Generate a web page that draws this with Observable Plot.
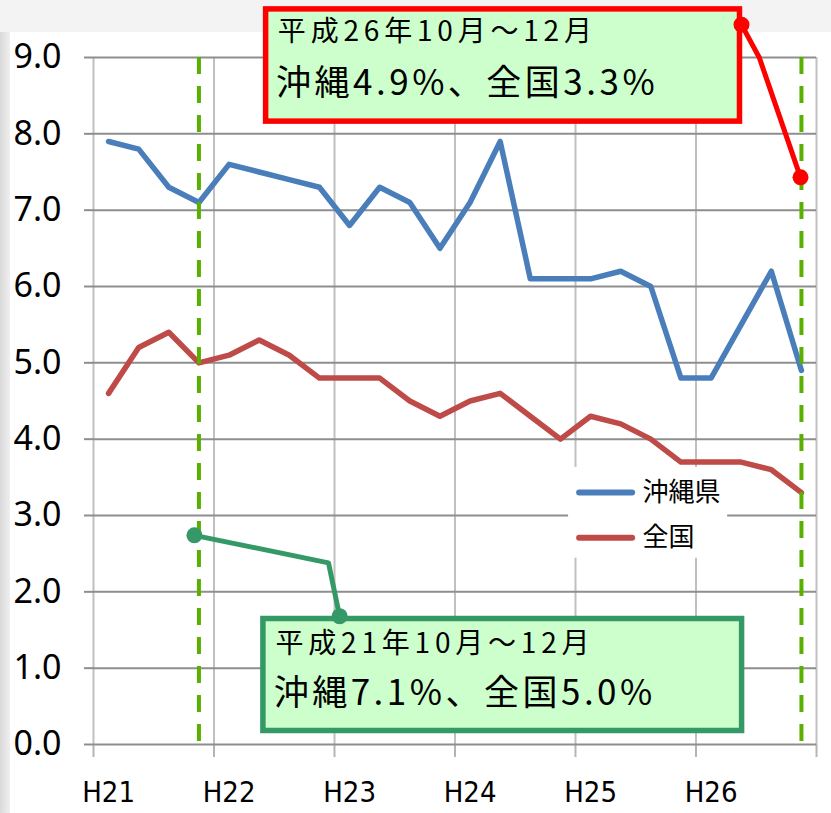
<!DOCTYPE html>
<html>
<head>
<meta charset="utf-8">
<script src="https://cdn.jsdelivr.net/npm/d3@7"></script>
<script src="https://cdn.jsdelivr.net/npm/@observablehq/plot@0.6"></script>
<style>
  html, body { margin: 0; padding: 0; background: #ffffff; }
  #chart { width: 831px; height: 813px; position: relative; }
  #chart svg { display: block; }
</style>
</head>
<body>
<div id="chart"></div>
<script>
// ---- data ----
const years = ["H21", "H22", "H23", "H24", "H25", "H26"];
const quarterCount = 24; // 4 quarters per year, H21 1-3月 … H26 10-12月
const okinawa = [7.9, 7.8, 7.3, 7.1, 7.6, 7.5, 7.4, 7.3, 6.8, 7.3, 7.1, 6.5,
                 7.1, 7.9, 6.1, 6.1, 6.1, 6.2, 6.0, 4.8, 4.8, 5.5, 6.2, 4.9];
const national = [4.6, 5.2, 5.4, 5.0, 5.1, 5.3, 5.1, 4.8, 4.8, 4.8, 4.5, 4.3,
                  4.5, 4.6, 4.3, 4.0, 4.3, 4.2, 4.0, 3.7, 3.7, 3.7, 3.6, 3.3];
const seriesNames = ["沖縄県", "全国"];
const yTicks = [0, 1, 2, 3, 4, 5, 6, 7, 8, 9];
const highlightQuarters = [3, 23]; // H21 10-12月, H26 10-12月

// annotation boxes (data space: x = quarter index, y = rate)
const redBox = {x1: 5.23, x2: 20.96, y1: 9.63, y2: 8.16};
const redText = [
  {x: 5.62, y: 9.33, text: "平成26年10月～12月", size: 28, spacing: 4.8},
  {x: 5.56, y: 8.66, text: "沖縄4.9%、全国3.3%", size: 35, spacing: 3.5}
];
const redConnector = [{x: 21.01, y: 9.43}, {x: 21.60, y: 9.00}, {x: 22.97, y: 7.43}];

const greenBox = {x1: 5.14, x2: 21.03, y1: 1.644, y2: 0.177};
const greenText = [
  {x: 5.54, y: 1.31, text: "平成21年10月～12月", size: 28, spacing: 4.8},
  {x: 5.48, y: 0.66, text: "沖縄7.1%、全国5.0%", size: 35, spacing: 3.5}
];
const greenConnector = [{x: 2.85, y: 2.74}, {x: 7.30, y: 2.38}, {x: 7.67, y: 1.68}];

// legend (data space)
const legendBox = {x1: 15.27, x2: 20.55, y1: 3.63, y2: 2.44};
const legendItems = [
  {name: seriesNames[0], color: "#4a7ebb", y: 3.30},
  {name: seriesNames[1], color: "#be4b48", y: 2.71}
];
const legendSwatch = {x1: 15.62, x2: 17.38, xText: 17.72};

// ---- build ----
const rows = okinawa.map((v, i) => ({i, okinawa: v, national: national[i]}));
const yearBounds = d3.range(0, years.length + 1).map(k => k * 4 - 0.5);
const yearLabelPos = years.map((y, k) => k * 4);

const cjk = "'Noto Sans CJK JP', 'Noto Sans', sans-serif";
const latin = "'Noto Sans', 'Open Sans', sans-serif";
const narrow = "'Liberation Sans Narrow', 'DejaVu Sans Condensed', 'Liberation Sans', sans-serif";

const chart = Plot.plot({
  width: 831,
  height: 813,
  marginLeft: 93,
  marginRight: 15,
  marginTop: 57,
  marginBottom: 69,
  x: {domain: [-0.5, quarterCount - 0.5], axis: null},
  y: {domain: [0, 9], axis: null},
  marks: [
    // vertical gridlines at year boundaries
    Plot.ruleX(yearBounds, {x: d => d, y1: 0, y2: 9, stroke: "#c0c0c0", strokeWidth: 2}),
    Plot.axisX(yearBounds, {tickSize: 13, tickFormat: () => "", stroke: "#b4b4b4", strokeWidth: 2}),
    // horizontal gridlines
    Plot.ruleY(yTicks, {y: d => d, x1: -0.5, x2: quarterCount - 0.5, stroke: "#8e8e8e", strokeWidth: 2}),
    Plot.axisY(yTicks, {tickSize: 9, tickPadding: 23, stroke: "#8e8e8e", strokeWidth: 2,
      tickFormat: d3.format(".1f"), fontSize: 34, fontFamily: latin, fill: "#000"}),
    Plot.axisX(yearLabelPos, {tickSize: 0, tickPadding: 37, tickFormat: (d, k) => years[k],
      fontSize: 29, fontFamily: narrow, fill: "#000"}),
    // legend background
    Plot.rect([legendBox], {x1: "x1", x2: "x2", y1: "y1", y2: "y2", fill: "#ffffff"}),
    // data lines
    Plot.line(rows, {x: "i", y: "okinawa", stroke: "#4a7ebb", strokeWidth: 5.5,
      strokeLinejoin: "round", strokeLinecap: "round"}),
    Plot.line(rows, {x: "i", y: "national", stroke: "#be4b48", strokeWidth: 5.5,
      strokeLinejoin: "round", strokeLinecap: "round"}),
    // highlight dashed lines
    Plot.ruleX(highlightQuarters, {x: d => d, y1: 9, y2: 0, stroke: "#5ab000", strokeWidth: 4,
      strokeDasharray: "17,12"}),
    // legend
    Plot.link(legendItems, {x1: () => legendSwatch.x1, x2: () => legendSwatch.x2, y1: "y", y2: "y",
      stroke: "color", strokeWidth: 6, strokeLinecap: "round"}),
    Plot.text(legendItems, {x: () => legendSwatch.xText, y: "y", text: "name", textAnchor: "start",
      fontSize: 26, fontFamily: cjk, fill: "#000"}),
    // red annotation
    Plot.rect([redBox], {x1: "x1", x2: "x2", y1: "y1", y2: "y2", fill: "#ccffcc",
      stroke: "#ff0000", strokeWidth: 5.5}),
    Plot.text(redText, {x: "x", y: "y", text: "text", fontSize: d => d.size, textAnchor: "start",
      fontFamily: cjk, fill: "#000"}),
    Plot.line(redConnector, {x: "x", y: "y", stroke: "#ff0000", strokeWidth: 5, strokeLinejoin: "round"}),
    Plot.dot([redConnector[0], redConnector[2]], {x: "x", y: "y", r: 8, fill: "#ff0000"}),
    // green annotation
    Plot.rect([greenBox], {x1: "x1", x2: "x2", y1: "y1", y2: "y2", fill: "#ccffcc",
      stroke: "#349967", strokeWidth: 5.5}),
    Plot.text(greenText, {x: "x", y: "y", text: "text", fontSize: d => d.size, textAnchor: "start",
      fontFamily: cjk, fill: "#000"}),
    Plot.line(greenConnector, {x: "x", y: "y", stroke: "#349967", strokeWidth: 5, strokeLinejoin: "round"}),
    Plot.dot([greenConnector[0], greenConnector[2]], {x: "x", y: "y", r: 8, fill: "#349967"})
  ]
});
// letter spacing for annotation text (Meiryo-like wide spacing)
const spacingByText = new Map([...redText, ...greenText].map(d => [d.text, d.spacing]));
d3.select(chart).selectAll("text").each(function () {
  const s = spacingByText.get(this.textContent);
  if (s != null) this.setAttribute("letter-spacing", s);
});
chart.style.background =
  "linear-gradient(#f3f3f3, #f3f3f3) top left / 100% 32px no-repeat, " +
  "linear-gradient(to right, #dadada, #efefef) top left / 10px 100% no-repeat, #ffffff";
document.getElementById("chart").appendChild(chart);
</script>
</body>
</html>
